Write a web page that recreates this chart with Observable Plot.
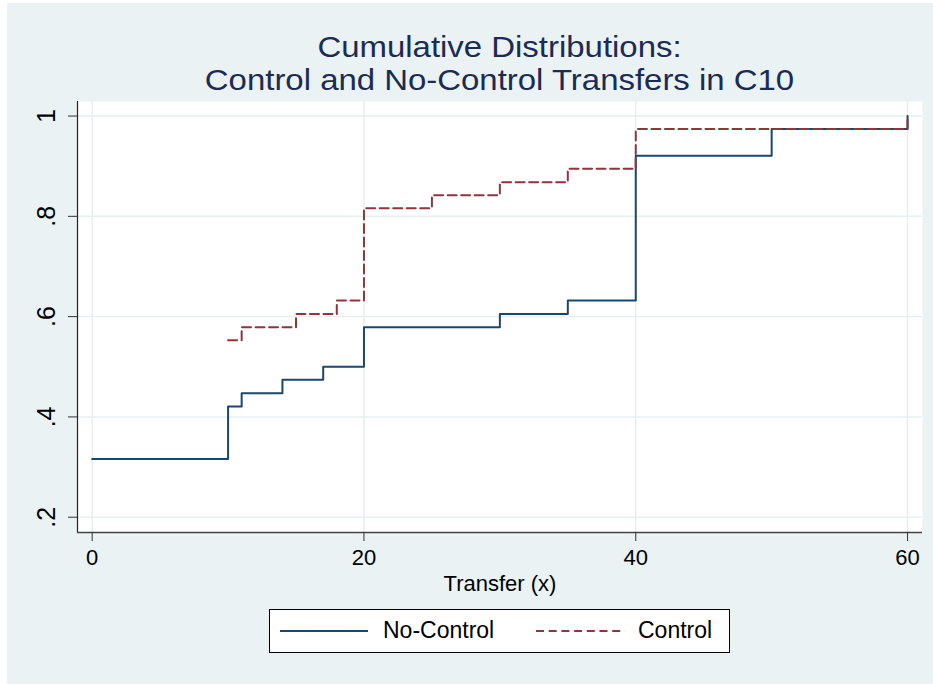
<!DOCTYPE html>
<html>
<head>
<meta charset="utf-8">
<script src="https://cdn.jsdelivr.net/npm/d3@7"></script>
<script src="https://cdn.jsdelivr.net/npm/@observablehq/plot@0.6"></script>
<style>
  html, body { margin: 0; padding: 0; background: #ffffff; }
  body { width: 933px; height: 684px; position: relative; overflow: hidden;
         font-family: "Liberation Sans", Arial, Helvetica, sans-serif; }
  #fig { position: absolute; left: 7px; top: 3px; width: 926px; height: 681px; background: #EAF2F3; }
  .title { position: absolute; left: 77px; width: 845px; height: 32px; text-align: center; color: #1c2b52;
           font-size: 32px; line-height: 32px; white-space: nowrap;
           transform: scale(1.029, 0.9); transform-origin: 50% 50%; }
  #chart { position: absolute; left: 0; top: 95px; }
  #legend { position: absolute; left: 269px; top: 609px; width: 459px; height: 42px;
            background: #ffffff; border: 1px solid #000; box-sizing: content-box; }
  #legend .lab { position: absolute; top: 9px; font-size: 23px; line-height: 1; color: #000; white-space: nowrap; }
  #legend svg { position: absolute; top: 0; left: 0; }
</style>
</head>
<body>
<div id="fig"></div>
<div class="title" style="top:30.7px">Cumulative Distributions:</div>
<div class="title" style="top:63.5px">Control and No-Control Transfers in C10</div>
<div id="chart"></div>
<div id="legend"></div>
<script>
// ---- data ----
const seriesNames = ["No-Control", "Control"];
const noControlX = [0, 10, 11, 14, 17, 20, 30, 35, 40, 50, 60];
const noControlY = [0.316, 0.421, 0.447, 0.474, 0.500, 0.579, 0.605, 0.632, 0.921, 0.974, 1.000];
const controlX = [10, 11, 15, 18, 20, 25, 30, 35, 40, 60];
const controlY = [0.553, 0.579, 0.605, 0.632, 0.816, 0.842, 0.868, 0.895, 0.974, 1.000];
const xTicks = [0, 20, 40, 60];
const yTicks = [0.2, 0.4, 0.6, 0.8, 1];
const yTickLabels = [".2", ".4", ".6", ".8", "1"];
const xLabel = "Transfer (x)";

// ---- style ----
const colors = {"No-Control": "#1a476f", "Control": "#90353b"};
const xDomain = [-1.08, 61.1];
const yDomain = [0.1695, 1.029];

const noControl = noControlX.map((x, i) => ({x, y: noControlY[i]}));
const control = controlX.map((x, i) => ({x, y: controlY[i]}));

const font = '"Liberation Sans", Arial, Helvetica, sans-serif';

const chart = Plot.plot({
  width: 933,
  height: 505,
  marginLeft: 77,
  marginRight: 11,
  marginTop: 6,
  marginBottom: 68,
  style: {background: "transparent", fontFamily: font, color: "#000", overflow: "visible"},
  x: {domain: xDomain},
  y: {domain: yDomain},
  marks: [
    Plot.frame({fill: "#ffffff", stroke: null}),
    Plot.gridX(xTicks, {stroke: "#E6EFF1", strokeOpacity: 1, strokeWidth: 1.5}),
    Plot.gridY(yTicks, {stroke: "#E6EFF1", strokeOpacity: 1, strokeWidth: 1.5}),
    Plot.ruleX([xDomain[0]], {stroke: "#222", strokeWidth: 1.2}),
    Plot.ruleY([yDomain[0]], {stroke: "#444", strokeWidth: 1.6}),
    Plot.axisX(xTicks, {tickSize: 9, tickPadding: 8, fontSize: 22, stroke: "#333",
      tickFormat: d => String(d), label: xLabel, labelAnchor: "center", labelArrow: "none", labelOffset: 58}),
    Plot.axisY(yTicks, {tickSize: 9, tickPadding: 14, fontSize: 25, stroke: "#333", tickRotate: -90,
      tickFormat: d => yTickLabels[yTicks.indexOf(d)], label: null}),
    Plot.line(noControl, {x: "x", y: "y", curve: "step-after", stroke: colors["No-Control"], strokeWidth: 2}),
    Plot.line(control, {x: "x", y: "y", curve: "step-after", stroke: colors["Control"], strokeWidth: 2, strokeDasharray: "9,4.5"})
  ]
});
document.getElementById("chart").appendChild(chart);

// ---- legend ----
const legend = document.getElementById("legend");
const ns = "http://www.w3.org/2000/svg";
const lsvg = document.createElementNS(ns, "svg");
lsvg.setAttribute("width", 459); lsvg.setAttribute("height", 42);
const samples = [
  {name: seriesNames[0], x1: 10, x2: 98, textX: 113, dash: null},
  {name: seriesNames[1], x1: 266, x2: 355, textX: 368, dash: "8,4.7"}
];
samples.forEach(s => {
  const ln = document.createElementNS(ns, "line");
  ln.setAttribute("x1", s.x1); ln.setAttribute("x2", s.x2);
  ln.setAttribute("y1", 21); ln.setAttribute("y2", 21);
  ln.setAttribute("stroke", colors[s.name]); ln.setAttribute("stroke-width", 2);
  if (s.dash) ln.setAttribute("stroke-dasharray", s.dash);
  lsvg.appendChild(ln);
  const t = document.createElement("div");
  t.className = "lab"; t.style.left = s.textX + "px"; t.textContent = s.name;
  legend.appendChild(t);
});
legend.appendChild(lsvg);
</script>
</body>
</html>
